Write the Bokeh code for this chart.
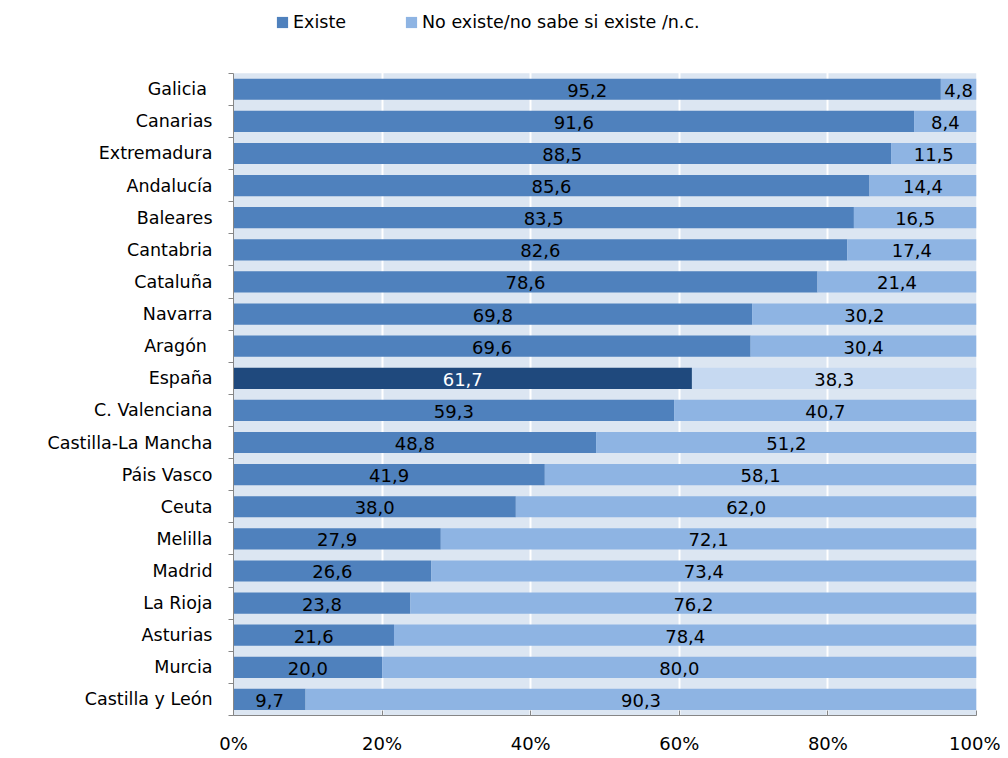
from bokeh.plotting import figure
from bokeh.models import (ColumnDataSource, Range1d, FixedTicker, Legend, LegendItem,
                          BoxAnnotation)
from bokeh.core.properties import value
from bokeh.embed import file_html
from bokeh.resources import INLINE

categories = ["Galicia ", "Canarias", "Extremadura", "Andalucía", "Baleares", "Cantabria",
              "Cataluña", "Navarra", "Aragón ", "España", "C. Valenciana", "Castilla-La Mancha",
              "Páis Vasco", "Ceuta", "Melilla", "Madrid", "La Rioja", "Asturias", "Murcia",
              "Castilla y León"]
existe = [95.2, 91.6, 88.5, 85.6, 83.5, 82.6, 78.6, 69.8, 69.6, 61.7, 59.3, 48.8, 41.9,
          38.0, 27.9, 26.6, 23.8, 21.6, 20.0, 9.7]
no_existe = [4.8, 8.4, 11.5, 14.4, 16.5, 17.4, 21.4, 30.2, 30.4, 38.3, 40.7, 51.2, 58.1,
             62.0, 72.1, 73.4, 76.2, 78.4, 80.0, 90.3]
x_ticks = [0, 20, 40, 60, 80, 100]
x_tick_labels = ["0%", "20%", "40%", "60%", "80%", "100%"]
series_names = ["Existe", "No existe/no sabe si existe /n.c."]
highlight = "España"

FONT = "DejaVu Sans"
C_EX, C_NO = "#4F81BD", "#8EB4E3"
C_EX_H, C_NO_H = "#1F497D", "#C6D9F1"
C_BG = "#DCE6F2"
C_AXIS = "#868686"

W, H = 1000, 756
BORDER_L, BORDER_R, BORDER_B = 233, 24, 38
TOP_PAD = 73  # space above the data area, reserved for the legend

n = len(categories)
ys = [n - i - 0.5 for i in range(n)]
frame_h = H - BORDER_B
y_end = n * frame_h / (frame_h - TOP_PAD)

def fmt(v):
    return f"{v:.1f}".replace(".", ",")

src = ColumnDataSource(dict(
    y=ys,
    cat=categories,
    ex=existe,
    no_left=existe,
    total=[a + b for a, b in zip(existe, no_existe)],
    zero=[0] * n,
    ex_mid=[v / 2 for v in existe],
    no_mid=[a + b / 2 for a, b in zip(existe, no_existe)],
    ex_lab=[fmt(v) for v in existe],
    no_lab=[fmt(v) for v in no_existe],
    ex_col=[C_EX_H if c == highlight else C_EX for c in categories],
    no_col=[C_NO_H if c == highlight else C_NO for c in categories],
    ex_txt=["white" if c == highlight else "black" for c in categories],
))

p = figure(width=W, height=H, output_backend="svg", toolbar_location=None,
           x_range=Range1d(0, 100), y_range=Range1d(0, y_end),
           min_border_left=BORDER_L, min_border_right=BORDER_R, min_border_top=0,
           min_border_bottom=BORDER_B)
p.background_fill_color = "white"
p.border_fill_color = "white"
p.outline_line_color = None

p.add_layout(BoxAnnotation(left=0, right=100, bottom=0, top=n, fill_color=C_BG,
                           fill_alpha=1, line_color=None, level="image"))

r1 = p.hbar(y="y", left="zero", right="ex", height=0.66, source=src,
            fill_color="ex_col", line_color=None)
r2 = p.hbar(y="y", left="no_left", right="total", height=0.66, source=src,
            fill_color="no_col", line_color=None)

p.text(x="ex_mid", y="y", text="ex_lab", source=src, text_align="center",
       text_baseline="middle", text_font=value(FONT), text_font_size="18px",
       text_color="ex_txt", y_offset=1)
p.text(x="no_mid", y="y", text="no_lab", source=src, text_align="center",
       text_baseline="middle", text_font=value(FONT), text_font_size="18px",
       text_color="black", y_offset=1)

# x axis
p.xaxis.ticker = FixedTicker(ticks=x_ticks)
p.xaxis.major_label_overrides = {t: l for t, l in zip(x_ticks, x_tick_labels)}
p.xaxis.major_tick_in = 5
p.xaxis.major_tick_out = 0
p.xaxis.minor_tick_line_color = None
p.xaxis.axis_line_color = C_AXIS
p.xaxis.major_tick_line_color = C_AXIS
p.xaxis.major_label_text_font = FONT
p.xaxis.major_label_text_font_size = "18px"
p.xaxis.major_label_text_color = "black"
p.xaxis.major_label_standoff = 17

# y axis
p.yaxis.bounds = (0, n)
p.yaxis.ticker = FixedTicker(ticks=ys, minor_ticks=list(range(n + 1)))
p.yaxis.major_label_overrides = {y: c for y, c in zip(ys, categories)}
p.yaxis.major_tick_in = 0
p.yaxis.major_tick_out = 0
p.yaxis.minor_tick_in = 0
p.yaxis.minor_tick_out = 5
p.yaxis.minor_tick_line_color = C_AXIS
p.yaxis.axis_line_color = C_AXIS
p.yaxis.major_label_text_font = FONT
p.yaxis.major_label_text_font_size = "17.5px"
p.yaxis.major_label_text_color = "black"
p.yaxis.major_label_standoff = 16

p.xgrid.grid_line_color = "white"
p.xgrid.grid_line_width = 2
p.ygrid.grid_line_color = None

legend = Legend(items=[LegendItem(label=series_names[0], renderers=[r1], index=0),
                       LegendItem(label=series_names[1], renderers=[r2], index=0)],
                orientation="horizontal", location=(42, frame_h - 35),
                glyph_width=14, glyph_height=14, label_standoff=4, spacing=58,
                padding=0, margin=0, border_line_color=None, background_fill_alpha=0,
                label_text_font=FONT, label_text_font_size="17.5px", label_text_color="black")
p.add_layout(legend, "center")

open("out.html", "w").write(file_html(p, INLINE))
